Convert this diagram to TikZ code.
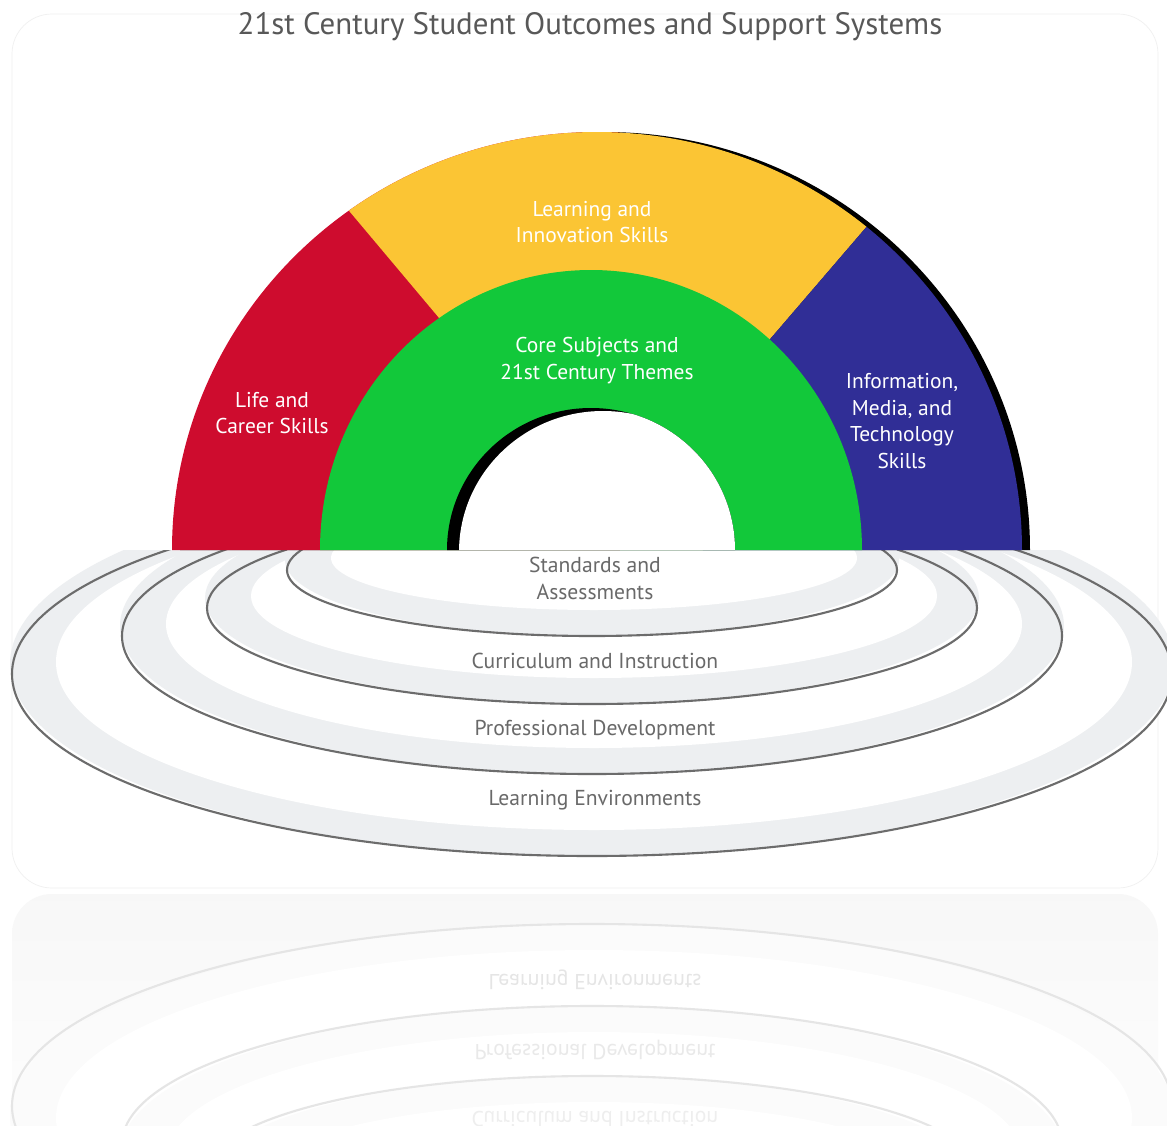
\documentclass[tikz,border=0pt]{standalone}
\usepackage{fontspec}
\setmainfont{PT Sans}
\usepackage{xcolor}

\definecolor{lifered}{RGB}{206,12,46}
\definecolor{innovyellow}{RGB}{251,197,52}
\definecolor{infoblue}{RGB}{48,46,150}
\definecolor{coregreen}{RGB}{18,200,58}
\definecolor{rimgray}{RGB}{237,239,241}
\definecolor{rimline}{RGB}{108,108,108}
\definecolor{labelgray}{RGB}{105,105,105}
\definecolor{titlegray}{RGB}{88,88,88}

\tikzset{
  title text/.style={text=titlegray, font=\fontsize{17.6}{21}\selectfont},
  arch text/.style={text=white, align=center, font=\fontsize{12.2}{15.3}\selectfont},
  ring text/.style={text=labelgray, align=center, font=\fontsize{12.3}{15.3}\selectfont},
  rim/.style={fill=rimgray},
  plate top/.style={fill=white},
  rim line/.style={draw=rimline, line width=1.2pt},
  panel/.style={draw=gray!12, fill=white, rounded corners=0.8cm},
}

% one support plate: centre y, x radius, y radius of its lower outline
\newcommand{\supportplate}[3]{%
  \fill[rim] (592,#1-10) ellipse [x radius=#2+2, y radius=#3+10];
  \fill[plate top] (594,#1-12) ellipse [x radius=#2-42, y radius=#3-14];
  \draw[rim line] (592,#1) ellipse [x radius=#2, y radius=#3];
}

\begin{document}
\begin{tikzpicture}[x=0.02cm, y=-0.02cm]
    \clip (0,0) rectangle (1167,1126);
    \fill[white] (0,0) rectangle (1167,1126);
    % panels
    \draw[panel] (12,14) rectangle (1158,888);
    \shade[rounded corners=0.8cm, top color=gray!6, bottom color=white] (12,894) rectangle (1158,1200);

    % support systems
    \begin{scope}
        \clip (0,550) rectangle (1167,886);
        \supportplate{674}{580}{182}
        \supportplate{636}{470}{138}
        \supportplate{608}{385}{96}
        \supportplate{570}{305}{66}
    \end{scope}
    \node[ring text] (standards) at (595,578) {Standards and\\Assessments};
    \node[ring text] (curric) at (595,661) {Curriculum and Instruction};
    \node[ring text] (profdev) at (595,730) {Professional Development};
    \node[ring text] (learnenv) at (595,800) {Learning Environments};

    % reflection
    \begin{scope}[shift={(0,1780)}, yscale=-1, rim/.style={fill=gray!3}, rim line/.style={draw=gray!20, line width=1.2pt}]
        \clip (0,550) rectangle (1167,886);
        \supportplate{674}{580}{182}
        \supportplate{636}{470}{138}
        \supportplate{608}{385}{96}
        \node[ring text, text=gray!20, transform shape] (learnenvrefl) at (595,800) {Learning Environments};
        \node[ring text, text=gray!17, transform shape] (profdevrefl) at (595,730) {Professional Development};
        \node[ring text, text=gray!13, transform shape] (curricrefl) at (595,661) {Curriculum and Instruction};
    \end{scope}

    % student outcomes arch
    \fill[black] (180,550) arc[start angle=180, end angle=360, x radius=425, y radius=418] -- cycle;
    \begin{scope}
        \clip (172,550) arc[start angle=180, end angle=360, x radius=425, y radius=418] -- cycle;
        \fill[lifered] (150,560) rectangle (620,100);
        \fill[innovyellow] (445,325) -- (308,162) -- (308,90) -- (905,90) -- (905,182) -- (765,345) -- cycle;
        \fill[infoblue] (765,345) -- (905,182) -- (1060,0) -- (1060,560) -- (700,560) -- cycle;
    \end{scope}
    \fill[coregreen] (320,550) arc[start angle=180, end angle=360, x radius=271, y radius=280] -- cycle;
    \begin{scope}
        \clip (447,550) arc[start angle=180, end angle=360, x radius=144, y radius=142] -- cycle;
        \fill[black] (440,560) rectangle (745,400);
        \fill[white] (459,552) arc[start angle=180, end angle=360, x radius=144, y radius=141] -- cycle;
    \end{scope}

    \node[arch text] (learninnov) at (592,222) {Learning and\\Innovation Skills};
    \node[arch text] (coresubj) at (597,361) {Core Subjects and\\21st Century Themes};
    \node[arch text] (lifecareer) at (272,413) {Life and\\Career Skills};
    \node[arch text] (infomedia) at (902,421) {Information,\\Media, and\\Technology\\Skills};

    \node[title text] (title) at (590,27) {21st Century Student Outcomes and Support Systems};
\end{tikzpicture}
\end{document}
